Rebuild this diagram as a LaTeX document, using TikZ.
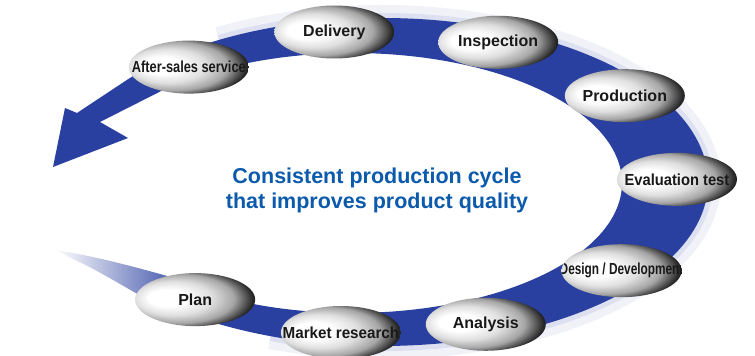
\documentclass[tikz,border=0pt]{standalone}
\usepackage{fontspec}
\setmainfont{Liberation Sans}
\usetikzlibrary{shapes.geometric,fadings}

\definecolor{ringblue}{RGB}{42,64,160}
\definecolor{titleblue}{RGB}{12,90,172}
\definecolor{pillink}{RGB}{25,25,25}

\pgfdeclareradialshading{pillshade}{\pgfpoint{-14bp}{2bp}}{%
  color(0bp)=(white); color(8bp)=(white); color(16bp)=(gray!25);
  color(23bp)=(gray!70); color(29bp)=(gray!30!black); color(34bp)=(black!90);
  color(45bp)=(black)}

\tikzfading[name=tailfade, left color=transparent!100, right color=transparent!0]

\tikzset{
  pill/.style={ellipse, minimum width=120pt, minimum height=53pt, inner sep=0pt,
    shading=pillshade,
    path picture={\node[rectangle, text=pillink, font=\fontsize{16}{18}\selectfont\bfseries]
      at (path picture bounding box.center) {#1};}},
  ring/.style={fill=ringblue},
  title/.style={text=titleblue, font=\fontsize{21.5}{25}\selectfont\bfseries, align=center}
}

\begin{document}
\begin{tikzpicture}[x=1pt,y=1pt]
  \useasboundingbox (0,0) rectangle (755,356);

  % soft halo outside the band
  \draw[ringblue!7, line width=26pt]
    ([shift={(382,174)}]250:326 and 164)
      arc[start angle=250, end angle=480, x radius=326, y radius=164];
  \draw[ringblue!16, line width=10pt]
    ([shift={(382,174)}]250:326 and 164)
      arc[start angle=250, end angle=480, x radius=326, y radius=164];

  % the band
  \fill[ring, path fading=tailfade]
    (195,72) .. controls (140,88) and (95,100) .. (55,106)
    -- (75,96) .. controls (110,80) and (150,52) .. (188,36) -- cycle;
  \fill[ring]
    ([shift={(382,174)}]233:326 and 164)
      arc[start angle=233, end angle=501, x radius=326, y radius=164]
    -- (77,243) -- (65,248) -- (53,189) -- (128,218) -- (100,234)
    -- ([shift={(352,173)}]135:270 and 130)
      arc[start angle=495, end angle=233, x radius=270, y radius=130] -- cycle;

  % steps of the cycle
  \begin{scope}[shift={(382,174)}]
    \path
      (230.7:295 and 152) node[pill=Plan] (plan) {}
      (262:295 and 152) node[pill={\scalebox{0.95}[1]{Market research}}] (market) {}
      (290.6:295 and 152) node[pill=Analysis] (analysis) {}
      (324.3:295 and 152) node[pill={\scalebox{0.74}[1]{Design / Development}}] (design) {}
      (1:295 and 152) node[pill={\scalebox{0.92}[1]{Evaluation test}}] (evaluation) {}
      (34.6:295 and 152) node[pill=Production] (production) {}
      (66.8:295 and 152) node[pill=Inspection] (inspection) {}
      (99.3:295 and 152) node[pill=Delivery] (delivery) {}
      (130.9:295 and 152) node[pill={\scalebox{0.8}[1]{After-sales service}}] (aftersales) {};
  \end{scope}

  \node[title] (motto) at (377,165.8) {Consistent production cycle\\that improves product quality};
\end{tikzpicture}
\end{document}
